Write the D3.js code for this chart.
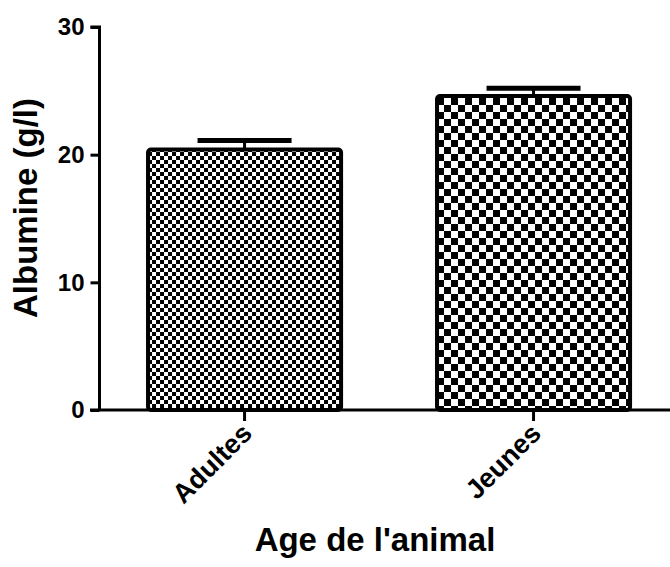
<!DOCTYPE html>
<html><head><meta charset="utf-8">
<script src="https://cdn.jsdelivr.net/npm/d3@7"></script>
<style>body{margin:0;background:#fff}svg{display:block}text{font-family:"Liberation Sans",Arial,sans-serif;font-weight:bold;fill:#000}</style>
</head><body>
<svg id="c" width="670" height="567"></svg>
<script>
const categories = ["Adultes", "Jeunes"];
const means = [20.4, 24.6];
const errors = [0.7, 0.6];
const yTicks = [0, 10, 20, 30];
const yTitle = "Albumine (g/l)";
const xTitle = "Age de l'animal";

const svg = d3.select("#c");
const y = d3.scaleLinear().domain([0, 30]).range([410, 27]);
const x = d3.scaleBand().domain(categories).range([101.8, 676.3]).paddingInner(0.332).paddingOuter(0.16);

const defs = svg.append("defs");
[[0, 4], [1, 7]].forEach(([i, s]) => {
  const p = defs.append("pattern").attr("id", "pat" + i).attr("patternUnits", "userSpaceOnUse")
    .attr("width", 2 * s).attr("height", 2 * s).attr("x", x(categories[i])).attr("y", 0);
  p.append("rect").attr("width", 2 * s).attr("height", 2 * s).attr("fill", "#fff");
  p.append("rect").attr("width", s).attr("height", s).attr("fill", "#000");
  p.append("rect").attr("x", s).attr("y", s).attr("width", s).attr("height", s).attr("fill", "#000");
});

// error bars
categories.forEach((c, i) => {
  const cx = x(c) + x.bandwidth() / 2;
  svg.append("line").attr("x1", cx).attr("x2", cx).attr("y1", y(means[i])).attr("y2", y(means[i] + errors[i]))
    .attr("stroke", "#000").attr("stroke-width", 3);
  svg.append("line").attr("x1", cx - 47).attr("x2", cx + 47).attr("y1", y(means[i] + errors[i])).attr("y2", y(means[i] + errors[i]))
    .attr("stroke", "#000").attr("stroke-width", 5);
});

// bars
svg.selectAll("rect.bar").data(categories).enter().append("rect").attr("class", "bar")
  .attr("x", d => x(d)).attr("width", x.bandwidth())
  .attr("y", (d, i) => y(means[i])).attr("height", (d, i) => y(0) - y(means[i]))
  .attr("rx", 3)
  .attr("fill", (d, i) => "url(#pat" + i + ")").attr("stroke", "#000").attr("stroke-width", 4);

// y axis
const ya = svg.append("g").attr("transform", "translate(99.5,0)")
  .call(d3.axisLeft(y).tickValues(yTicks).tickSize(9).tickPadding(6).tickFormat(d3.format("d")));
ya.select(".domain").attr("stroke-width", 3).attr("d", "M-9,27H0V410");
ya.selectAll(".tick line").attr("stroke-width", 3);
ya.selectAll(".tick text").style("font-size", "24px").style("font-family", "Liberation Sans, Arial").style("font-weight", "bold");

// x axis
const xa = svg.append("g").attr("transform", "translate(0,410)")
  .call(d3.axisBottom(x).tickSize(11).tickPadding(0));
xa.select(".domain").attr("stroke-width", 3).attr("d", "M90,0H670");
xa.selectAll(".tick line").attr("stroke-width", 3);
xa.selectAll(".tick text").style("font-size", "27px").style("font-family", "Liberation Sans, Arial").style("font-weight", "bold")
  .attr("text-anchor", "end").attr("x", 0).attr("y", 0).attr("dy", 0)
  .attr("transform", "translate(9,25) rotate(-45)");

svg.append("text").attr("x", 375).attr("y", 551).attr("text-anchor", "middle").style("font-size", "33px").text(xTitle);
svg.append("text").attr("transform", "translate(37,208) rotate(-90)").attr("text-anchor", "middle").style("font-size", "33px").text(yTitle);
</script>
</body></html>
